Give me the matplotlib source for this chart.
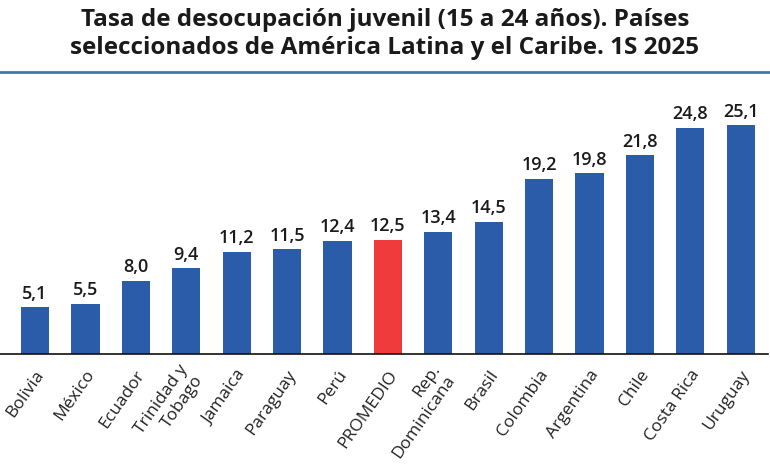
import matplotlib
matplotlib.use("Agg")
import matplotlib.pyplot as plt
from matplotlib.lines import Line2D
from matplotlib.transforms import ScaledTranslation

paises = ["Bolivia", "México", "Ecuador", "Trinidad y\nTobago", "Jamaica",
          "Paraguay", "Perú", "PROMEDIO", "Rep.\nDominicana", "Brasil",
          "Colombia", "Argentina", "Chile", "Costa Rica", "Uruguay"]
tasas = [5.1, 5.5, 8.0, 9.4, 11.2, 11.5, 12.4, 12.5, 13.4, 14.5,
         19.2, 19.8, 21.8, 24.8, 25.1]
destacado = "PROMEDIO"

AZUL = "#2a5caa"
ROJO = "#ef3b3b"

plt.rcParams["font.family"] = ["Open Sans", "DejaVu Sans"]

fig = plt.figure(figsize=(7.7, 4.77), dpi=100)
ax = fig.add_axes([0, 122 / 477, 768 / 770, 275 / 477])

x = list(range(len(paises)))
colores = [ROJO if p == destacado else AZUL for p in paises]
ax.bar(x, tasas, width=0.56, color=colores)

for xi, v in zip(x, tasas):
    ax.annotate(f"{v:.1f}".replace(".", ","), (xi, v), xytext=(0, 4),
                textcoords="offset points", ha="center", va="bottom",
                fontsize=13, fontweight="semibold", color="#1a1a1a")

ax.set_xlim(-0.694, 14.54)
ax.set_ylim(0, 30.15)
ax.set_xticks(x)
ax.set_xticklabels(paises, rotation=55, ha="right", va="center",
                   rotation_mode="anchor", fontsize=12.5, color="#222222",
                   linespacing=1.15)
ax.tick_params(axis="x", length=0, pad=12)
desplazar = ScaledTranslation(6 / 100, 0, fig.dpi_scale_trans)
for lbl in ax.get_xticklabels():
    lbl.set_transform(lbl.get_transform() + desplazar)
ax.set_yticks([])
for s in ["top", "right", "left"]:
    ax.spines[s].set_visible(False)
ax.spines["bottom"].set_linewidth(1.2)
ax.spines["bottom"].set_color("#111111")

fig.text(0.5, 1 - 34 / 477, "Tasa de desocupación juvenil (15 a 24 años). Países\n"
         "seleccionados de América Latina y el Caribe. 1S 2025",
         ha="center", va="center", fontsize=17.5, fontweight="bold",
         color="#1a1a1a", linespacing=1.2)
fig.add_artist(Line2D([0, 1], [1 - 72.5 / 477] * 2, color="#3d7aa9",
                      linewidth=2, transform=fig.transFigure))

fig.savefig("out.png", dpi=100)
